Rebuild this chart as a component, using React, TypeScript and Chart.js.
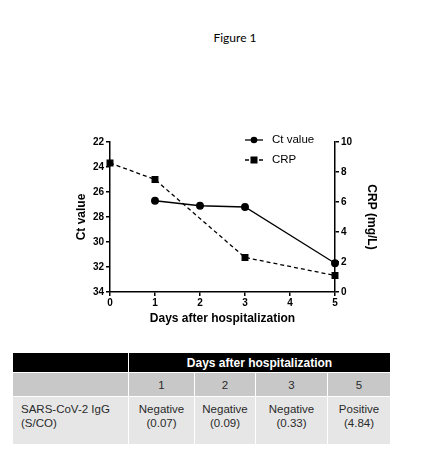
import React, { useEffect, useRef } from "react";
import { Chart, registerables } from "chart.js";

Chart.register(...registerables);

const ctDays = [1, 2, 3, 5];
const ctValues = [26.7, 27.1, 27.2, 31.7];
const crpDays = [0, 1, 3, 5];
const crpValues = [8.6, 7.5, 2.3, 1.1];
const tableDays = ["1", "2", "3", "5"];
const iggResults = [
  ["Negative", "(0.07)"],
  ["Negative", "(0.09)"],
  ["Negative", "(0.33)"],
  ["Positive", "(4.84)"],
];

const FONT = "'Liberation Sans', Arial, sans-serif";

const legendPlugin = {
  id: "customLegend",
  afterDraw(chart: any) {
    const ctx = chart.ctx;
    const items = [
      { label: "Ct value", y: 140, ds: 0 },
      { label: "CRP", y: 160, ds: 1 },
    ];
    ctx.save();
    items.forEach((it) => {
      const ds = chart.data.datasets[it.ds];
      ctx.strokeStyle = "#000";
      ctx.lineWidth = 1.3;
      ctx.setLineDash(ds.borderDash || []);
      ctx.beginPath();
      ctx.moveTo(245, it.y);
      ctx.lineTo(263, it.y);
      ctx.stroke();
      ctx.setLineDash([]);
      ctx.fillStyle = "#000";
      if (ds.pointStyle === "rect") {
        ctx.fillRect(250.5, it.y - 3.5, 7, 7);
      } else {
        ctx.beginPath();
        ctx.arc(254, it.y, 3.3, 0, Math.PI * 2);
        ctx.fill();
      }
      ctx.font = `11.5px ${FONT}`;
      ctx.textBaseline = "middle";
      ctx.fillText(it.label, 272, it.y);
    });
    ctx.restore();
  },
};

function ChartView() {
  const ref = useRef<HTMLCanvasElement | null>(null);
  useEffect(() => {
    if (!ref.current) return;
    const tickFont = { family: FONT, size: 10, weight: "bold" as const };
    const titleFont = { family: FONT, size: 12, weight: "bold" as const };
    const chart = new Chart(ref.current, {
      type: "line",
      data: {
        datasets: [
          {
            label: "Ct value",
            data: ctDays.map((d, i) => ({ x: d, y: ctValues[i] })),
            yAxisID: "y",
            borderColor: "#000",
            backgroundColor: "#000",
            borderWidth: 1.3,
            pointStyle: "circle",
            pointRadius: 3.3,
            pointHoverRadius: 3.3,
            clip: false as any,
          },
          {
            label: "CRP",
            data: crpDays.map((d, i) => ({ x: d, y: crpValues[i] })),
            yAxisID: "y1",
            borderColor: "#000",
            backgroundColor: "#000",
            borderWidth: 1.3,
            borderDash: [4, 3],
            pointStyle: "rect",
            pointRadius: 4,
            pointHoverRadius: 4,
            clip: false as any,
          },
        ],
      },
      options: {
        animation: false,
        responsive: false,
        maintainAspectRatio: false,
        layout: { padding: { top: 142, left: 74, right: 67, bottom: 14 } },
        plugins: { legend: { display: false }, tooltip: { enabled: false } },
        scales: {
          x: {
            type: "linear",
            min: 0,
            max: 5,
            ticks: { stepSize: 1, color: "#000", font: tickFont, padding: 1 },
            grid: { drawOnChartArea: false, drawTicks: true, tickLength: 4, color: "#000", lineWidth: 1.5 },
            border: { display: true, color: "#000", width: 1.5 },
            title: { display: true, text: "Days after hospitalization", color: "#000", font: titleFont, padding: 0 },
            afterFit: (s: any) => { s.height = 34; },
          },
          y: {
            type: "linear",
            position: "left",
            reverse: true,
            min: 22,
            max: 34,
            ticks: { stepSize: 2, color: "#000", font: tickFont, padding: 2 },
            grid: { drawOnChartArea: false, drawTicks: true, tickLength: 4, color: "#000", lineWidth: 1.5 },
            border: { display: true, color: "#000", width: 1.5 },
            title: { display: true, text: "Ct value", color: "#000", font: titleFont, padding: 0 },
            afterFit: (s: any) => { s.width = 36; },
          },
          y1: {
            type: "linear",
            position: "right",
            min: 0,
            max: 10,
            ticks: { stepSize: 2, color: "#000", font: tickFont, padding: 2 },
            grid: { drawOnChartArea: false, drawTicks: true, tickLength: 4, color: "#000", lineWidth: 1.5 },
            border: { display: true, color: "#000", width: 1.5 },
            title: { display: true, text: "CRP (mg/L)", color: "#000", font: titleFont, padding: 0 },
            afterFit: (s: any) => { s.width = 44; },
          },
        },
      },
      plugins: [legendPlugin],
    });
    return () => chart.destroy();
  }, []);
  return <canvas ref={ref} width={446} height={340} style={{ position: "absolute", left: 0, top: 0, width: 446, height: 340 }} />;
}

export default function App() {
  useEffect(() => {
    document.body.style.margin = "0";
  }, []);
  const cell: React.CSSProperties = { padding: 0, textAlign: "center", verticalAlign: "middle" };
  const colW = [115, 65, 60, 71, 62];
  return (
    <div style={{ position: "relative", width: 446, height: 470, background: "#fff", fontFamily: FONT }}>
      <div style={{ position: "absolute", top: 30, left: 0, width: 470 - 24, textAlign: "center", fontFamily: "Lato, 'Open Sans', sans-serif", fontSize: 12, color: "#000" }}>
        <span style={{ position: "relative", left: 12 }}>Figure 1</span>
      </div>
      <ChartView />
      <table
        style={{
          position: "absolute",
          left: 12,
          top: 352,
          borderCollapse: "separate",
          borderSpacing: "1px 1px",
          fontFamily: FONT,
          fontSize: 11.5,
          color: "#2a2a2a",
          tableLayout: "fixed",
          width: 379,
        }}
      >
        <colgroup>
          {colW.map((w, i) => (
            <col key={i} style={{ width: w }} />
          ))}
        </colgroup>
        <tbody>
          <tr style={{ height: 19 }}>
            <td style={{ ...cell, background: "#000" }}></td>
            <td colSpan={4} style={{ ...cell, background: "#000", color: "#fff", fontWeight: "bold", fontSize: 12 }}>
              Days after hospitalization
            </td>
          </tr>
          <tr style={{ height: 23 }}>
            <td style={{ ...cell, background: "#c8c8c8" }}></td>
            {tableDays.map((d) => (
              <td key={d} style={{ ...cell, background: "#c8c8c8" }}>{d}</td>
            ))}
          </tr>
          <tr style={{ height: 47 }}>
            <td style={{ ...cell, background: "#e6e6e6", textAlign: "left", verticalAlign: "top", paddingTop: 5, paddingLeft: 8, lineHeight: "14px" }}>
              SARS-CoV-2 IgG
              <br />
              (S/CO)
            </td>
            {iggResults.map((r, i) => (
              <td key={i} style={{ ...cell, background: "#e6e6e6", verticalAlign: "top", paddingTop: 5, lineHeight: "14px" }}>
                {r[0]}
                <br />
                {r[1]}
              </td>
            ))}
          </tr>
        </tbody>
      </table>
    </div>
  );
}
